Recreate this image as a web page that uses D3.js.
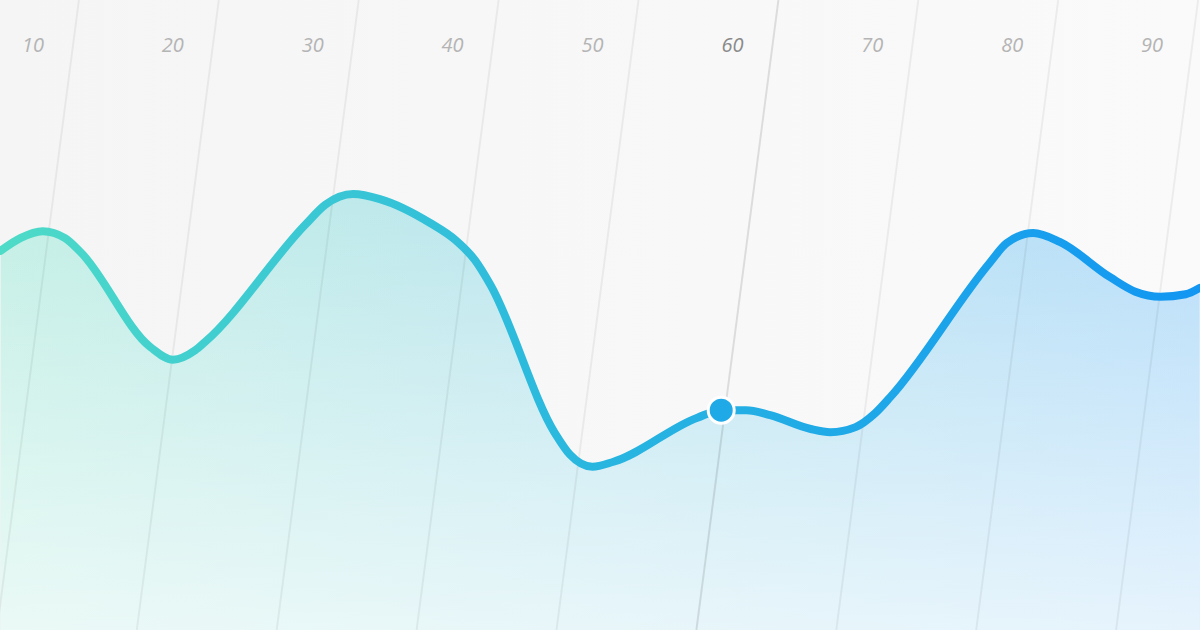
<!DOCTYPE html>
<html lang="en">
    <head>
        <meta charset="utf-8">
        <title>D3: Gradient area line</title>
        <script src="https://d3js.org/d3.v7.min.js"></script>
        <style type="text/css">
         html, body { margin: 0; padding: 0; }
         svg { display: block; }
        </style>
    </head>
    <body>
        <script type="text/javascript">
         //Width and height
         var width = 1200;
         var height = 630;

         //Tick labels along the top
         var ticks = [10, 20, 30, 40, 50, 60, 70, 80, 90];
         var activeTick = 60;

         //Series (x in tick units, y in 0-100)
         var xs = [7.7, 9.1, 10.7, 12.3, 13.4, 18.4, 20.0, 21.6, 22.3, 29.5, 30.9, 32.9, 34.8,
                   38.4, 40.2, 41.6, 42.7, 47.3, 48.4, 50.0, 51.5, 57.5, 59.2, 61.0, 62.7,
                   65.6, 67.0, 68.8, 70.2, 71.3, 78.4, 79.6, 81.5, 83.4, 87.0, 88.8, 90.6, 92.4, 93.4];
         var ys = [60.2, 62.2, 63.3, 62.2, 60.0, 44.9, 42.9, 44.4, 45.7, 64.4, 67.5, 69.2, 68.4,
                   64.6, 61.9, 58.7, 54.8, 31.3, 27.8, 25.9, 26.7, 33.7, 34.9, 34.9, 34.1,
                   31.9, 31.4, 32.2, 34.4, 37.0, 58.3, 61.4, 63.0, 61.6, 56.0, 53.7, 52.9, 53.3, 54.3];

         //Highlighted point
         var marker = { x: 59.2, y: 34.9 };

         var data = xs.map(function(d, i) { return { x: d, y: ys[i] }; });

         //Scales
         var x = d3.scaleLinear()
                   .domain([0, 100])
                   .range([-107, 1292]);

         var y = d3.scaleLinear()
                   .domain([0, 100])
                   .range([height, 0]);

         //Create SVG element
         var svg = d3.select("body")
                     .append("svg")
                     .attr("width", width)
                     .attr("height", height);

         var defs = svg.append("defs");

         //Background
         var bg = defs.append("linearGradient")
                      .attr("id", "bg")
                      .attr("x1", "0").attr("y1", "0")
                      .attr("x2", "1").attr("y2", "0");
         bg.append("stop").attr("offset", "0").attr("stop-color", "#f5f5f5");
         bg.append("stop").attr("offset", "1").attr("stop-color", "#fafafa");

         //Line colour, teal to blue
         var lineGrad = defs.append("linearGradient")
                            .attr("id", "lineGrad")
                            .attr("gradientUnits", "userSpaceOnUse")
                            .attr("x1", 0).attr("y1", 0)
                            .attr("x2", width).attr("y2", 0);
         lineGrad.append("stop").attr("offset", "0").attr("stop-color", "#4edbc7");
         lineGrad.append("stop").attr("offset", "0.5").attr("stop-color", "#28b6e0");
         lineGrad.append("stop").attr("offset", "1").attr("stop-color", "#1296f2");

         //Area colour
         var areaGrad = defs.append("linearGradient")
                            .attr("id", "areaGrad")
                            .attr("gradientUnits", "userSpaceOnUse")
                            .attr("x1", 0).attr("y1", 0)
                            .attr("x2", width).attr("y2", 0);
         areaGrad.append("stop").attr("offset", "0").attr("stop-color", "#c3efe5");
         areaGrad.append("stop").attr("offset", "0.4").attr("stop-color", "#bde7ed");
         areaGrad.append("stop").attr("offset", "1").attr("stop-color", "#b6ddf9");

         //Fade towards the bottom
         var fade = defs.append("linearGradient")
                        .attr("id", "fade")
                        .attr("gradientUnits", "userSpaceOnUse")
                        .attr("x1", 0).attr("y1", 200)
                        .attr("x2", 0).attr("y2", height);
         fade.append("stop").attr("offset", "0").attr("stop-color", "#ffffff").attr("stop-opacity", 0);
         fade.append("stop").attr("offset", "1").attr("stop-color", "#ffffff").attr("stop-opacity", 0.66);

         svg.append("rect")
            .attr("width", width)
            .attr("height", height)
            .attr("fill", "url(#bg)");

         //Path generators
         var area = d3.area()
                      .x(function(d) { return x(d.x); })
                      .y0(height)
                      .y1(function(d) { return y(d.y); })
                      .curve(d3.curveMonotoneX);

         var line = d3.line()
                      .x(function(d) { return x(d.x); })
                      .y(function(d) { return y(d.y); })
                      .curve(d3.curveMonotoneX);

         svg.append("path")
            .datum(data)
            .attr("d", area)
            .attr("fill", "url(#areaGrad)");

         svg.append("path")
            .datum(data)
            .attr("d", area)
            .attr("fill", "url(#fade)");

         //Slanted grid lines
         svg.append("g")
            .selectAll("line")
            .data(ticks)
            .enter()
            .append("line")
            .attr("x1", function(d) { return x(d) + 46; })
            .attr("y1", 0)
            .attr("x2", function(d) { return x(d) - 36; })
            .attr("y2", height)
            .attr("stroke", function(d) { return d === activeTick ? "rgba(0,0,0,0.11)" : "rgba(0,0,0,0.055)"; })
            .attr("stroke-width", 2);

         //Tick labels
         svg.append("g")
            .selectAll("text")
            .data(ticks)
            .enter()
            .append("text")
            .attr("x", function(d) { return x(d); })
            .attr("y", 52)
            .attr("text-anchor", "middle")
            .style("font-family", "'Open Sans', 'Noto Sans', sans-serif")
            .style("font-style", "italic")
            .style("font-size", "20px")
            .attr("fill", function(d) { return d === activeTick ? "#8a8a8a" : "#b4b4b4"; })
            .text(function(d) { return d; });

         //The line itself
         svg.append("path")
            .datum(data)
            .attr("d", line)
            .attr("fill", "none")
            .attr("stroke", "url(#lineGrad)")
            .attr("stroke-width", 8)
            .attr("stroke-linecap", "round");

         //Marker
         svg.append("circle")
            .attr("cx", x(marker.x))
            .attr("cy", y(marker.y))
            .attr("r", 13)
            .attr("fill", "#1fa9e6")
            .attr("stroke", "#ffffff")
            .attr("stroke-width", 3);
        </script>
    </body>
</html>
